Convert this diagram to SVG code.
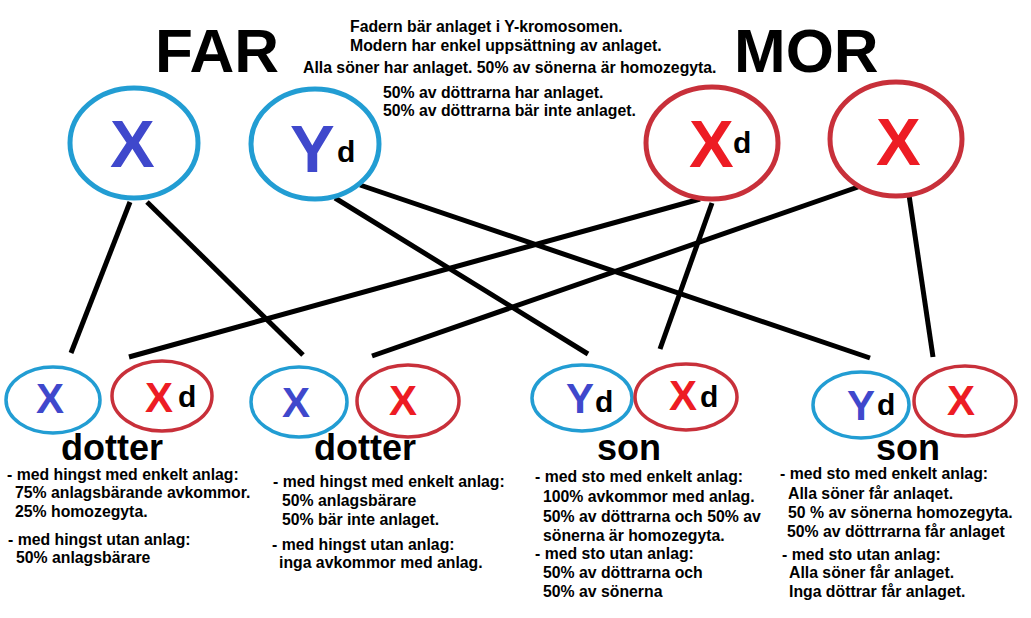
<svg xmlns="http://www.w3.org/2000/svg" width="1031" height="618" viewBox="0 0 1031 618">
<style>
text{font-family:"Liberation Sans",Arial,sans-serif;font-weight:bold;}
.title{font-size:62px;fill:#000;}
.small{font-size:15.8px;fill:#000;}
.label{font-size:36px;fill:#000;}
.bo{fill:#fff;stroke:#229dd3;}
.ro{fill:#fff;stroke:#c8303a;}
.pb{stroke-width:5;}
.cb{stroke-width:3.5;}
.bl{fill:#3f48cc;}
.rl{fill:#ed1c24;}
.big{font-size:67px;}
.mid{font-size:42px;}
.sup{font-size:30px;fill:#000;}
.con line{stroke:#000;stroke-width:5;stroke-linecap:butt;}
</style>
<rect width="1031" height="618" fill="#fff"/>
<g id="header">
<text class="title" x="155" y="72">FAR</text>
<text class="title" x="734" y="72">MOR</text>
<text class="small" x="350" y="32">Fadern bär anlaget i Y-kromosomen.</text>
<text class="small" x="350" y="51">Modern har enkel uppsättning av anlaget.</text>
<text class="small" x="303" y="73">Alla söner har anlaget. 50% av sönerna är homozegyta.</text>
<text class="small" x="383" y="98">50% av döttrarna har anlaget.</text>
<text class="small" x="383" y="116">50% av döttrarna bär inte anlaget.</text>
</g>
<g id="connectors" class="con">
<line x1="130" y1="202" x2="71" y2="353"/>
<line x1="147" y1="202" x2="303" y2="355"/>
<line x1="335" y1="198" x2="588" y2="354"/>
<line x1="360" y1="185" x2="870" y2="358"/>
<line x1="700" y1="199" x2="129" y2="357"/>
<line x1="712" y1="203" x2="660" y2="349"/>
<line x1="858" y1="187" x2="372" y2="356"/>
<line x1="909" y1="195" x2="933" y2="357"/>
</g>
<g id="far-x">
<ellipse class="bo pb" cx="134" cy="143" rx="64" ry="55"/>
<text class="bl big" x="110" y="167">X</text>
</g>
<g id="far-yd">
<ellipse class="bo pb" cx="315" cy="144" rx="64" ry="55"/>
<text class="bl big" x="290" y="172">Y</text>
<text class="sup" x="337" y="162">d</text>
</g>
<g id="mor-xd">
<ellipse class="ro pb" cx="712" cy="143" rx="66" ry="56"/>
<text class="rl big" x="689" y="167">X</text>
<text class="sup" x="733" y="153">d</text>
</g>
<g id="mor-x">
<ellipse class="ro pb" cx="896" cy="139" rx="66" ry="57"/>
<text class="rl big" x="876" y="165">X</text>
</g>
<g id="dotter1">
<ellipse class="bo cb" cx="53" cy="400" rx="47" ry="33"/>
<ellipse class="ro cb" cx="162" cy="396" rx="50" ry="35"/>
<text class="bl mid" x="36" y="413">X</text>
<text class="rl mid" x="145" y="412">X</text>
<text class="sup" x="178" y="407">d</text>
<text class="label" x="61" y="460">dotter</text>
<text class="small" x="7" y="480">- med hingst med enkelt anlag:</text>
<text class="small" x="15" y="498">75% anlagsbärande avkommor.</text>
<text class="small" x="15" y="517">25% homozegyta.</text>
<text class="small" x="8" y="545">- med hingst utan anlag:</text>
<text class="small" x="16" y="563">50% anlagsbärare</text>
</g>
<g id="dotter2">
<ellipse class="bo cb" cx="299" cy="402" rx="48" ry="35"/>
<ellipse class="ro cb" cx="408" cy="401" rx="51" ry="36"/>
<text class="bl mid" x="282" y="417">X</text>
<text class="rl mid" x="389" y="415">X</text>
<text class="label" x="314" y="460">dotter</text>
<text class="small" x="273" y="487">- med hingst med enkelt anlag:</text>
<text class="small" x="282" y="506">50% anlagsbärare</text>
<text class="small" x="282" y="525">50% bär inte anlaget.</text>
<text class="small" x="272" y="550">- med hingst utan anlag:</text>
<text class="small" x="279" y="568">inga avkommor med anlag.</text>
</g>
<g id="son1">
<ellipse class="bo cb" cx="582" cy="398" rx="50" ry="33"/>
<ellipse class="ro cb" cx="686" cy="397" rx="51" ry="33"/>
<text class="bl mid" x="566" y="413">Y</text>
<text class="sup" x="595" y="412">d</text>
<text class="rl mid" x="669" y="410">X</text>
<text class="sup" x="700" y="407">d</text>
<text class="label" x="597" y="460">son</text>
<text class="small" x="535" y="482">- med sto med enkelt anlag:</text>
<text class="small" x="543" y="502">100% avkommor med anlag.</text>
<text class="small" x="543" y="522">50% av döttrarna och 50% av</text>
<text class="small" x="543" y="541">sönerna är homozegyta.</text>
<text class="small" x="535" y="559">- med sto utan anlag:</text>
<text class="small" x="543" y="578">50% av döttrarna och</text>
<text class="small" x="543" y="597">50% av sönerna</text>
</g>
<g id="son2">
<ellipse class="bo cb" cx="861" cy="405" rx="48" ry="33"/>
<ellipse class="ro cb" cx="965" cy="401" rx="51" ry="35"/>
<text class="bl mid" x="847" y="420">Y</text>
<text class="sup" x="877" y="415">d</text>
<text class="rl mid" x="947" y="415">X</text>
<text class="label" x="876" y="460">son</text>
<text class="small" x="780" y="479">- med sto med enkelt anlag:</text>
<text class="small" x="788" y="499">Alla söner får anlaqet.</text>
<text class="small" x="788" y="518">50 % av sönerna homozegyta.</text>
<text class="small" x="787" y="537">50% av döttrrarna får anlaget</text>
<text class="small" x="782" y="560">- med sto utan anlag:</text>
<text class="small" x="789" y="578">Alla söner får anlaget.</text>
<text class="small" x="789" y="597">Inga döttrar får anlaget.</text>
</g>
</svg>
